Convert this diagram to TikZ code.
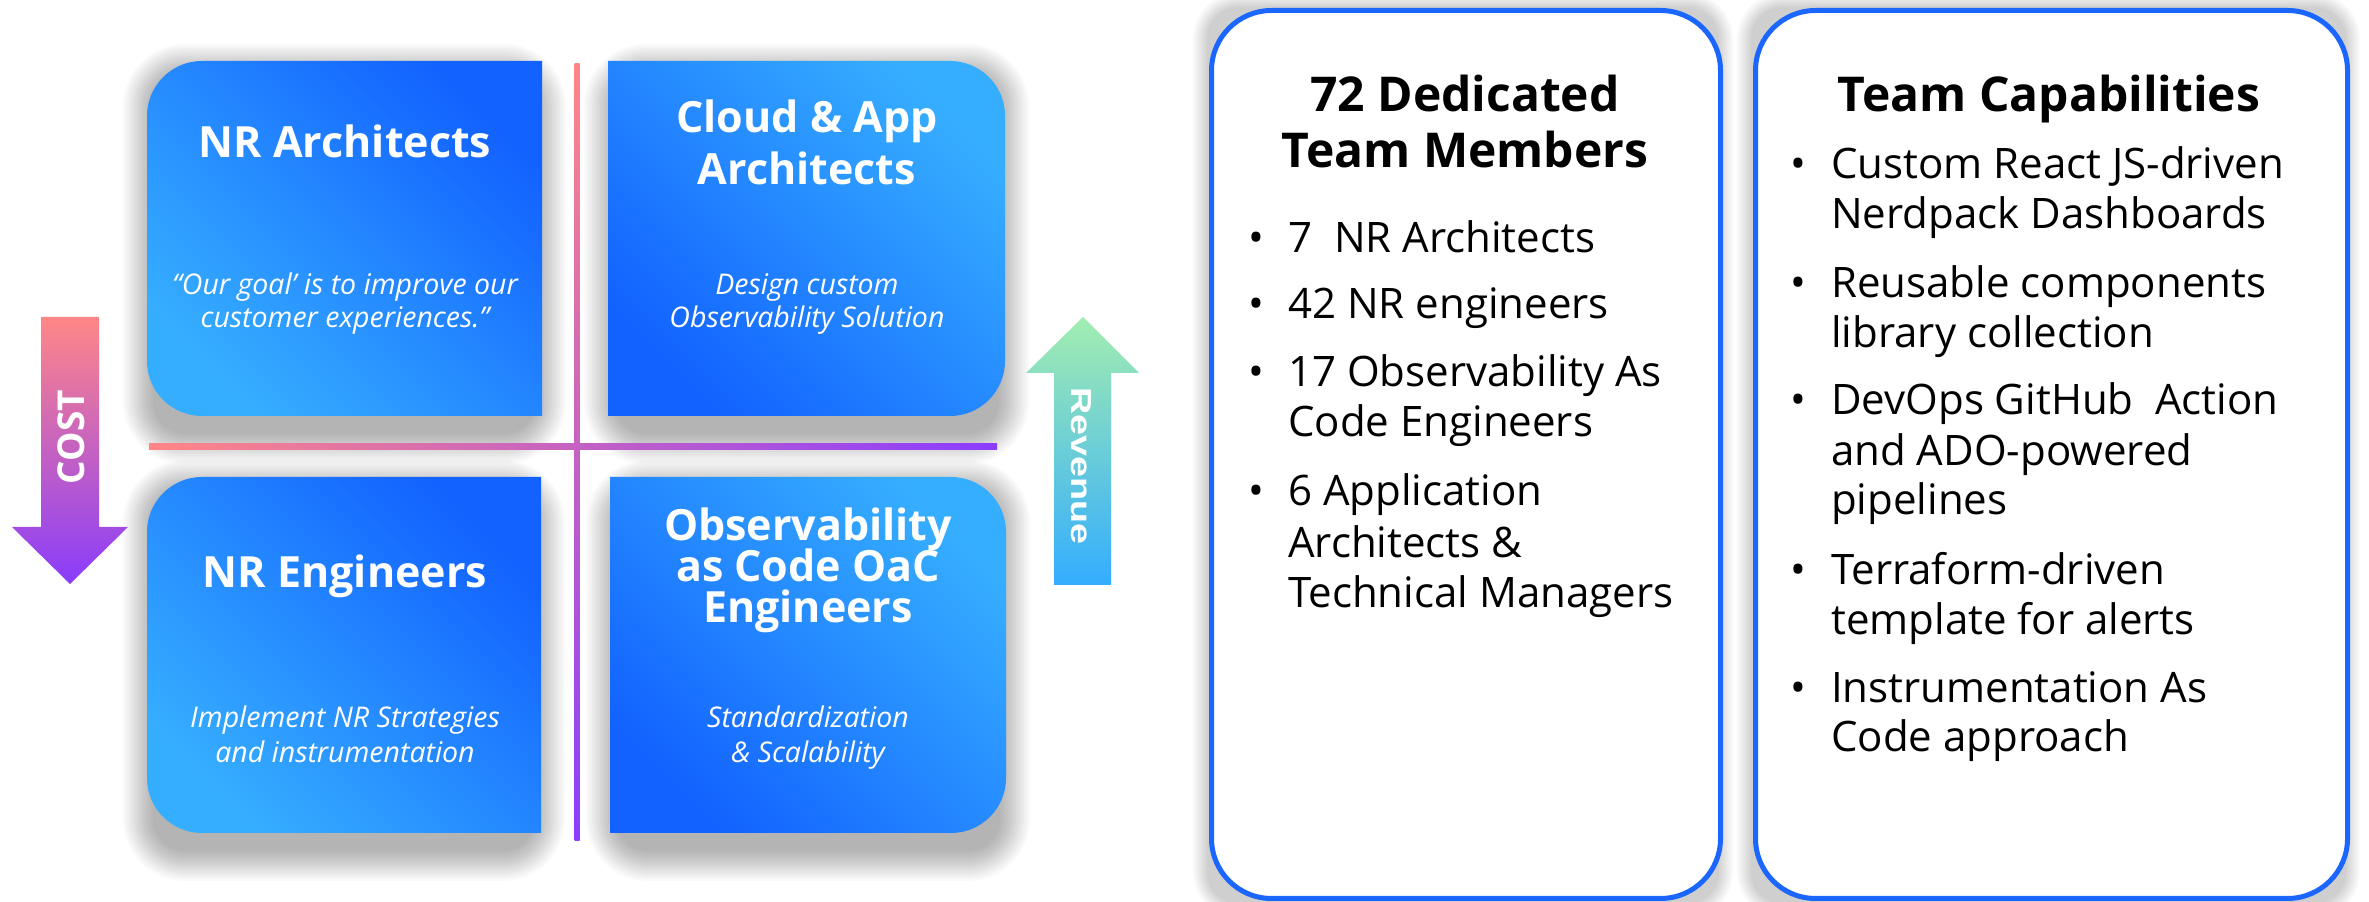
\documentclass[tikz,border=0pt]{standalone}
\usepackage{fontspec}
\setmainfont{Open Sans}
\newfontfamily\arrowfont{Liberation Sans}

\definecolor{qlight}{HTML}{36AEFF}
\definecolor{qdark}{HTML}{1262FF}
\definecolor{linepink}{HTML}{FF8686}
\definecolor{linepurple}{HTML}{8B3DFF}
\definecolor{costtop}{HTML}{FF8787}
\definecolor{costbot}{HTML}{8A3CFC}
\definecolor{revtop}{HTML}{A2EDB0}
\definecolor{revbot}{HTML}{33ADFF}
\definecolor{panelblue}{HTML}{1A66FF}

\tikzset{
  haze/.style={fill=black, opacity=#1},
  darkTR/.style={top color=qdark, bottom color=qlight, shading angle=-45},
  lightTR/.style={top color=qlight, bottom color=qdark, shading angle=-45},
  qtitle/.style={text=white, font=\fontsize{43}{50}\selectfont\bfseries, anchor=base, inner sep=0pt},
  qsub/.style={text=white, font=\fontsize{28.5}{33}\selectfont\itshape, anchor=base, inner sep=0pt},
  ptitle/.style={font=\fontsize{48}{56}\selectfont\bfseries, anchor=base, inner sep=0pt},
  pitem/.style={font=\fontsize{42}{50}\selectfont, anchor=base west, inner sep=0pt},
  pbullet/.style={font=\fontsize{42}{50}\selectfont, anchor=base, inner sep=0pt},
  panel/.style={draw=panelblue, line width=5pt, fill=white, rounded corners=60pt},
}

% soft layered shadow behind a box given by its lower-left and upper-right corners
\newcommand{\softshadow}[6]{% x1,y1,x2,y2,max spread,layer opacity
  \foreach \k [evaluate=\k as \rr using 30+\k] in {2,4,...,#5}{
    \fill[haze=#6, rounded corners=\rr pt] (#1-\k,#2-\k) rectangle (#3+\k,#4+\k);
  }
}

\begin{document}
\begin{tikzpicture}[x=1pt,y=1pt]
\useasboundingbox (0,0) rectangle (2369,902);
\fill[white] (0,0) rectangle (2369,902);

% ---- tile shadows ----
\softshadow{155}{470}{534}{826}{32}{0.019}
\softshadow{616}{470}{997}{826}{32}{0.019}
\softshadow{155}{53}{533}{410}{32}{0.019}
\softshadow{618}{53}{998}{410}{32}{0.019}

% ---- quadrant tiles ----
\shade[darkTR] (542,841) -- (542,486) -- (202,486)
  arc[start angle=270,end angle=180,radius=55] -- (147,786)
  arc[start angle=180,end angle=90,radius=55] -- cycle;
\shade[lightTR] (608,486) -- (950,486)
  arc[start angle=-90,end angle=0,radius=55] -- (1005,786)
  arc[start angle=0,end angle=90,radius=55] -- (608,841) -- cycle;
\shade[darkTR] (541,425) -- (541,69) -- (202,69)
  arc[start angle=270,end angle=180,radius=55] -- (147,370)
  arc[start angle=180,end angle=90,radius=55] -- cycle;
\shade[lightTR] (610,69) -- (951,69)
  arc[start angle=-90,end angle=0,radius=55] -- (1006,370)
  arc[start angle=0,end angle=90,radius=55] -- (610,425) -- cycle;

% ---- axes ----
\shade[left color=linepink, right color=linepurple] (149,452) rectangle (997,458);
\shade[top color=linepink, bottom color=linepurple] (574.5,61) rectangle (579.5,838);

% ---- tile texts ----
\node[qtitle] (t1) at (345,744) {NR Architects};
\node[qsub] (s1a) at (345,607) {“Our goal’ is to improve our};
\node[qsub] (s1b) at (345,574) {customer experiences.”};

\node[qtitle] (t2a) at (807,769) {Cloud \& App};
\node[qtitle] (t2b) at (807,717) {Architects};
\node[qsub] (s2a) at (807,607) {Design custom};
\node[qsub] (s2b) at (807,574) {Observability Solution};

\node[qtitle] (t3) at (345,314) {NR Engineers};
\node[qsub] (s3a) at (345,174) {Implement NR Strategies};
\node[qsub] (s3b) at (345,139) {and instrumentation};

\node[qtitle] (t4a) at (808,361) {Observability};
\node[qtitle] (t4b) at (808,320) {as Code OaC};
\node[qtitle] (t4c) at (808,279) {Engineers};
\node[qsub] (s4a) at (808,174) {Standardization};
\node[qsub] (s4b) at (808,139) {\& Scalability};

% ---- cost arrow ----
\shade[top color=costtop, bottom color=costbot] (41,585) -- (99,585) -- (99,375)
  -- (128,375) -- (70,318) -- (12,375) -- (41,375) -- cycle;
\node[rotate=90, text=white, inner sep=0pt, font=\fontsize{37}{40}\selectfont\bfseries] (cost) at (71,465) {COST};

% ---- revenue arrow ----
\shade[top color=revtop, bottom color=revbot] (1054,317) -- (1111,317) -- (1111,529)
  -- (1139,529) -- (1083,585) -- (1026,529) -- (1054,529) -- cycle;
\node[rotate=-90, text=white, inner sep=0pt, font=\arrowfont\bfseries\fontsize{29}{32}\selectfont] (rev) at (1081,436) {\scalebox{1.3}[1]{Revenue}};

% ---- panel shadows ----
\softshadow{1209}{0}{1717}{893}{16}{0.022}
\softshadow{1753}{0}{2344}{893}{16}{0.022}

% ---- team panel ----
\draw[panel] (1211.5,3.5) rectangle (1720.5,891.5);
\node[ptitle] (p1t1) at (1465,790) {72 Dedicated};
\node[ptitle] (p1t2) at (1465,734) {Team Members};
\node[pbullet] (b11) at (1256,649) {•};
\node[pitem] (i11) at (1288,649) {7~~NR Architects};
\node[pbullet] (b12) at (1256,583) {•};
\node[pitem] (i12) at (1288,583) {42 NR engineers};
\node[pbullet] (b13) at (1256,515) {•};
\node[pitem] (i13a) at (1288,515) {17 Observability As};
\node[pitem] (i13b) at (1288,465) {Code Engineers};
\node[pbullet] (b14) at (1256,396) {•};
\node[pitem] (i14a) at (1288,396) {6 Application};
\node[pitem] (i14b) at (1288,344) {Architects \&};
\node[pitem] (i14c) at (1288,294) {Technical Managers};

% ---- capabilities panel ----
\draw[panel] (1755.5,3.5) rectangle (2347.5,891.5);
\node[ptitle] (p2t) at (2049,790) {Team Capabilities};
\node[pbullet] (b21) at (1798,723) {•};
\node[pitem] (i21a) at (1831,723) {Custom React JS-driven};
\node[pitem] (i21b) at (1831,673) {Nerdpack Dashboards};
\node[pbullet] (b22) at (1798,604) {•};
\node[pitem] (i22a) at (1831,604) {Reusable components};
\node[pitem] (i22b) at (1831,554) {library collection};
\node[pbullet] (b23) at (1798,487) {•};
\node[pitem] (i23a) at (1831,487) {DevOps GitHub~ Action};
\node[pitem] (i23b) at (1831,436) {and ADO-powered};
\node[pitem] (i23c) at (1831,387) {pipelines};
\node[pbullet] (b24) at (1798,317) {•};
\node[pitem] (i24a) at (1831,317) {Terraform-driven};
\node[pitem] (i24b) at (1831,267) {template for alerts};
\node[pbullet] (b25) at (1798,199) {•};
\node[pitem] (i25a) at (1831,199) {Instrumentation As};
\node[pitem] (i25b) at (1831,150) {Code approach};
\end{tikzpicture}
\end{document}
